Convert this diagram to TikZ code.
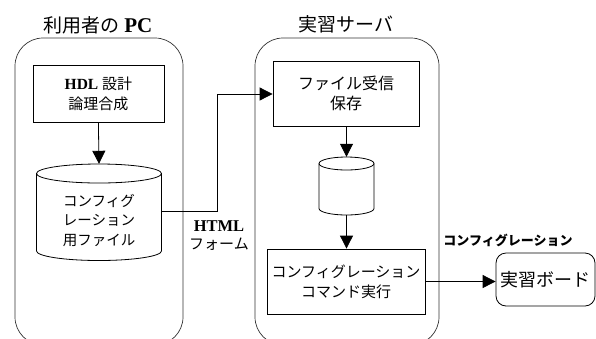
\documentclass[tikz,border=0pt]{standalone}
\usepackage{fontspec}
\setmainfont{Liberation Serif}
\newfontfamily\jp{Noto Sans CJK JP}
\usetikzlibrary{arrows.meta}
\tikzset{
  cont/.style={draw=black!80, line width=0.7pt, rounded corners=28pt},
  procbox/.style={draw, line width=0.8pt, align=center, inner sep=0pt,
    font=\fontsize{15}{20}\selectfont},
  dbnode/.style={inner sep=0pt, align=center},
  dbline/.style={line width=0.8pt},
  title/.style={font=\fontsize{19}{22}\selectfont},
  arr/.style={line width=0.8pt, -{Triangle[length=13pt,width=13pt]}},
  lbl/.style={font=\fontsize{15}{18}\selectfont, align=center},
}
\begin{document}
\begin{tikzpicture}[x=1pt,y=-1pt]
\useasboundingbox (0,0) rectangle (596,338);
\clip (0,0) rectangle (596,338);
% containers
\draw[cont] (15,38) rectangle (183,345);
\draw[cont] (255,38) rectangle (439,345);
\node[title] (t1) at (98,25) {{\jp 利用者の} {\fontsize{21}{22}\selectfont\textbf{PC}}};
\node[title] (t2) at (346,24) {\jp 実習サーバ};
% left side
\node[procbox, minimum width=131pt, minimum height=57pt] (b1) at (98.4,93.5)
  {{\fontsize{15.5}{20}\selectfont\textbf{HDL}} {\jp 設計}\\{\jp 論理合成}};
\node[dbnode, minimum width=125pt, minimum height=96.5pt] (c1) at (99,212.25) {};
\draw[dbline] (99,173.5) ellipse [x radius=62.5, y radius=9.5];
\draw[dbline] (36.5,173.5) -- (36.5,251) arc[start angle=180, end angle=0, x radius=62.5, y radius=9.5] -- (161.5,173.5);
\node[dbnode, font=\fontsize{14.5}{19.5}\selectfont] (c1t) at (99,220.5)
  {\jp コンフィグ\\\jp レーション\\\jp 用ファイル};
\draw[arr] (b1.south) -- (c1.north);
% right side
\node[procbox, minimum width=146pt, minimum height=65pt, font=\fontsize{16}{20}\selectfont] (b2) at (346,93.5)
  {\jp ファイル受信\\\jp 保存};
\node[dbnode, minimum width=55pt, minimum height=58pt] (c2) at (346.5,186) {};
\draw[dbline] (346.5,163.5) ellipse [x radius=27.5, y radius=6.5];
\draw[dbline] (319,163.5) -- (319,208.5) arc[start angle=180, end angle=0, x radius=27.5, y radius=6.5] -- (374,163.5);
\node[procbox, minimum width=158pt, minimum height=65pt] (b3) at (346,281.5)
  {\jp コンフィグレーション\\\jp コマンド実行};
\node[draw, line width=0.8pt, rounded corners=10pt, minimum width=99pt, minimum height=53pt,
  inner sep=0pt, font=\fontsize{18}{20}\selectfont] (bd) at (545.5,279.5) {\jp 実習ボード};
\draw[arr] (b2.south -| c2.north) -- (c2.north);
\draw[arr] (c2.south) -- (c2.south |- b3.north);
\draw[arr] (b3.east) -- (b3.east -| bd.west);
% HTML form connector
\coordinate (k1) at (217,211);
\coordinate (k2) at (217,94);
\draw[arr] (c1.east |- k1) -- (k1) -- (k2) -- (b2.west |- k2);
\node[lbl] (h) at (219,236) {{\fontsize{16.5}{18}\selectfont\textbf{HTML}}\\\jp フォーム};
\node[font=\fontsize{13}{16}\selectfont\jp\bfseries] (cl) at (508,240) {コンフィグレーション};
\end{tikzpicture}
\end{document}
